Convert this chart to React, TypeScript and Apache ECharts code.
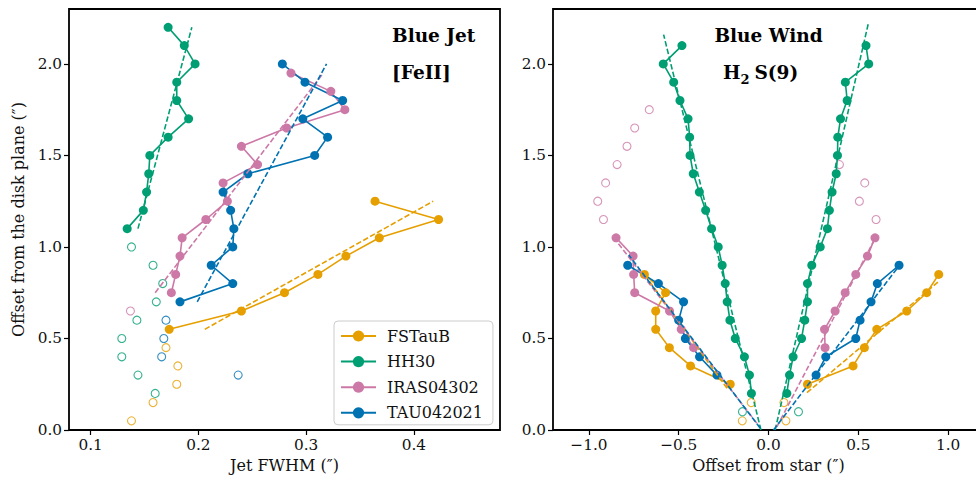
import React, { useEffect, useRef } from "react";
import * as echarts from "echarts";

// ---------------- Left panel: Blue Jet [FeII] ----------------
const jetFSTauB_y = [1.25, 1.15, 1.05, 0.95, 0.85, 0.75, 0.65, 0.55];
const jetFSTauB_x = [0.364, 0.423, 0.368, 0.337, 0.311, 0.28, 0.24, 0.173];
const jetFSTauB_hy = [0.45, 0.35, 0.25, 0.15, 0.05];
const jetFSTauB_hx = [0.17, 0.181, 0.18, 0.158, 0.138];
const jetFSTauB_fy = [0.55, 1.25];
const jetFSTauB_fx = [0.206, 0.418];

const jetHH30_y = [2.2, 2.1, 2.0, 1.9, 1.8, 1.7, 1.6, 1.5, 1.4, 1.3, 1.2, 1.1];
const jetHH30_x = [0.172, 0.187, 0.197, 0.18, 0.18, 0.191, 0.172, 0.155, 0.154, 0.152, 0.149, 0.134];
const jetHH30_hy = [1.0, 0.9, 0.8, 0.7, 0.6, 0.5, 0.4, 0.3, 0.2];
const jetHH30_hx = [0.138, 0.158, 0.167, 0.161, 0.143, 0.129, 0.129, 0.144, 0.16];
const jetHH30_fy = [1.1, 2.2];
const jetHH30_fx = [0.144, 0.194];

const jetIRAS_y = [1.95, 1.85, 1.75, 1.65, 1.55, 1.45, 1.35, 1.25, 1.15, 1.05, 0.95, 0.85, 0.75];
const jetIRAS_x = [0.286, 0.323, 0.336, 0.282, 0.24, 0.255, 0.223, 0.227, 0.207, 0.185, 0.183, 0.179, 0.175];
const jetIRAS_hy = [0.65];
const jetIRAS_hx = [0.137];
const jetIRAS_fy = [0.75, 1.95];
const jetIRAS_fx = [0.16, 0.316];

const jetTAU_y = [2.0, 1.9, 1.8, 1.7, 1.6, 1.5, 1.4, 1.3, 1.2, 1.1, 1.0, 0.9, 0.8, 0.7];
const jetTAU_x = [0.278, 0.299, 0.334, 0.297, 0.32, 0.308, 0.246, 0.223, 0.23, 0.233, 0.232, 0.212, 0.232, 0.183];
const jetTAU_hy = [0.6, 0.5, 0.4, 0.3];
const jetTAU_hx = [0.17, 0.168, 0.166, 0.237];
const jetTAU_fy = [0.7, 2.0];
const jetTAU_fx = [0.199, 0.319];

// ---------------- Right panel: Blue Wind H2 S(9) ----------------
const windHH30_y = [2.1, 2.0, 1.9, 1.8, 1.7, 1.6, 1.5, 1.4, 1.3, 1.2, 1.1, 1.0, 0.9, 0.8, 0.7, 0.6, 0.5, 0.4, 0.3, 0.2];
const windHH30_xl = [-0.482, -0.586, -0.528, -0.493, -0.448, -0.439, -0.437, -0.419, -0.385, -0.35, -0.317, -0.28, -0.258, -0.241, -0.23, -0.215, -0.185, -0.134, -0.106, -0.095];
const windHH30_xr = [0.543, 0.558, 0.428, 0.438, 0.401, 0.386, 0.384, 0.377, 0.354, 0.339, 0.328, 0.288, 0.241, 0.217, 0.217, 0.202, 0.184, 0.137, 0.117, 0.102];
const windHH30_hy = [0.1, 0.1];
const windHH30_hx = [-0.145, 0.167];
const windHH30_fyl = [0.0, 2.16];
const windHH30_fxl = [-0.042, -0.584];
const windHH30_fyr = [0.0, 2.23];
const windHH30_fxr = [0.037, 0.558];

const windFSTauB_y = [0.85, 0.75, 0.65, 0.55, 0.45, 0.35, 0.25];
const windFSTauB_xl = [-0.691, -0.573, -0.628, -0.628, -0.552, -0.434, -0.213];
const windFSTauB_xr = [0.948, 0.881, 0.77, 0.603, 0.534, 0.471, 0.217];
const windFSTauB_hy = [0.15, 0.05, 0.15, 0.05];
const windFSTauB_hx = [-0.096, -0.146, 0.086, 0.097];
const windFSTauB_fyl = [0.228, 0.856];
const windFSTauB_fxl = [-0.231, -0.695];
const windFSTauB_fyr = [0.204, 0.81];
const windFSTauB_fxr = [0.214, 0.946];

const windIRAS_y = [1.05, 0.95, 0.85, 0.75, 0.65, 0.55, 0.45];
const windIRAS_xl = [-0.849, -0.754, -0.751, -0.745, -0.551, -0.486, -0.417];
const windIRAS_xr = [0.593, 0.551, 0.486, 0.427, 0.371, 0.312, 0.315];
const windIRAS_hyl = [1.75, 1.65, 1.55, 1.45, 1.35, 1.25, 1.15];
const windIRAS_hxl = [-0.664, -0.745, -0.788, -0.843, -0.907, -0.951, -0.919];
const windIRAS_hyr = [1.45, 1.35, 1.25, 1.15];
const windIRAS_hxr = [0.395, 0.536, 0.506, 0.599];
const windIRAS_fyl = [0.037, 1.035];
const windIRAS_fxl = [-0.065, -0.849];
const windIRAS_fyr = [0.018, 1.04];
const windIRAS_fxr = [0.047, 0.59];

const windTAU_y = [0.9, 0.8, 0.7, 0.6, 0.5, 0.4, 0.3];
const windTAU_xl = [-0.784, -0.613, -0.473, -0.5, -0.463, -0.384, -0.287];
const windTAU_xr = [0.727, 0.606, 0.571, 0.51, 0.486, 0.319, 0.265];
const windTAU_fyl = [0.01, 0.956];
const windTAU_fxl = [-0.046, -0.778];
const windTAU_fyr = [0.0, 0.88];
const windTAU_fxr = [0.028, 0.714];

// ---------------- Axes ticks ----------------
const jetXTicks = [0.1, 0.2, 0.3, 0.4];
const windXTicks = [-1.0, -0.5, 0.0, 0.5, 1.0];
const yTicks = [0.0, 0.5, 1.0, 1.5, 2.0];

const C_FST = "#E69F00";
const C_HH = "#009E73";
const C_IRAS = "#CC79A7";
const C_TAU = "#0072B2";
const FONT = "'DejaVu Serif', serif";

const pairs = (xs: number[], ys: number[]) => xs.map((x, i) => [x, ys[i]]);

function solid(name: string, xs: number[], ys: number[], color: string, ai: number) {
  return {
    type: "line",
    name,
    xAxisIndex: ai,
    yAxisIndex: ai,
    data: pairs(xs, ys),
    symbol: "circle",
    symbolSize: 9,
    showSymbol: true,
    lineStyle: { color, width: 1.6 },
    itemStyle: { color },
    emphasis: { disabled: true },
    silent: true,
    z: 3,
  };
}
function hollow(name: string, xs: number[], ys: number[], color: string, ai: number) {
  return {
    type: "scatter",
    name,
    xAxisIndex: ai,
    yAxisIndex: ai,
    data: pairs(xs, ys),
    symbol: "circle",
    symbolSize: 8,
    itemStyle: { color: "rgba(255,255,255,0)", borderColor: color, borderWidth: 1.1 },
    emphasis: { disabled: true },
    silent: true,
    z: 2,
  };
}
function fit(name: string, xs: number[], ys: number[], color: string, ai: number) {
  return {
    type: "line",
    name,
    xAxisIndex: ai,
    yAxisIndex: ai,
    data: pairs(xs, ys),
    symbol: "none",
    lineStyle: { color, width: 1.6, type: [5.5, 2.4] },
    emphasis: { disabled: true },
    silent: true,
    z: 4,
  };
}

const fmt = (v: number) => (v < 0 ? "\u2212" + Math.abs(v).toFixed(1) : v.toFixed(1));

export default function App() {
  const ref = useRef<HTMLDivElement>(null);
  useEffect(() => {
    if (!ref.current) return;
    const chart = echarts.init(ref.current, undefined, { renderer: "svg" });
    const axisLabel = (vals: number[]) => ({
      customValues: vals,
      formatter: (v: number) => fmt(v),
      fontFamily: FONT,
      fontSize: 15.3,
      color: "#111",
      margin: 7,
    });
    const axisTick = (vals: number[]) => ({
      show: true,
      customValues: vals,
      length: 5,
      lineStyle: { color: "#000", width: 1.2 },
    });
    const nameStyle = { fontFamily: FONT, fontSize: 16, color: "#111" };
    const xAxis = (ai: number, min: number, max: number, ticks: number[], name: string) => ({
      type: "value",
      gridIndex: ai,
      min,
      max,
      axisLine: { show: false, onZero: false },
      axisTick: axisTick(ticks),
      axisLabel: axisLabel(ticks),
      splitLine: { show: false },
      name,
      nameLocation: "middle",
      nameGap: 27,
      nameTextStyle: nameStyle,
    });
    const yAxis = (ai: number, name: string) => ({
      type: "value",
      gridIndex: ai,
      min: 0,
      max: 2.3,
      axisLine: { show: false, onZero: false },
      axisTick: axisTick(yTicks),
      axisLabel: axisLabel(yTicks),
      splitLine: { show: false },
      name,
      nameLocation: "middle",
      nameGap: 43,
      nameTextStyle: nameStyle,
    });

    const titleFont = `bold 18.5px ${FONT}`;
    const option = {
      animation: false,
      backgroundColor: "#fff",
      grid: [
        { left: 69, top: 9, width: 431, height: 421, show: true, borderColor: "#000", borderWidth: 1.8, backgroundColor: "transparent", outerBoundsMode: "none", containLabel: false },
        { left: 553, top: 9, width: 431, height: 421, show: true, borderColor: "#000", borderWidth: 1.8, backgroundColor: "transparent", outerBoundsMode: "none", containLabel: false },
      ],
      xAxis: [
        xAxis(0, 0.08, 0.48, jetXTicks, "Jet FWHM (\u2033)"),
        xAxis(1, -1.2, 1.2, windXTicks, "Offset from star (\u2033)"),
      ],
      yAxis: [yAxis(0, "Offset from the disk plane (\u2033)"), yAxis(1, "")],
      legend: {
        data: ["FSTauB", "HH30", "IRAS04302", "TAU042021"],
        orient: "vertical",
        left: 334,
        top: 321,
        itemWidth: 35,
        itemHeight: 14,
        itemGap: 9.6,
        padding: [7, 10, 4, 6],
        borderColor: "#cccccc",
        borderWidth: 1,
        borderRadius: 4,
        backgroundColor: "#fff",
        textStyle: { fontFamily: FONT, fontSize: 16, color: "#111", lineHeight: 14, padding: [0, 0, 0, 6] },
        selectedMode: false,
      },
      graphic: [
        { type: "text", x: 392, y: 35.5, style: { text: "Blue Jet", font: titleFont, fill: "#000", textVerticalAlign: "middle" } },
        { type: "text", x: 392, y: 72, style: { text: "[FeII]", font: titleFont, fill: "#000", textVerticalAlign: "middle" } },
        { type: "text", x: 768.5, y: 35.5, style: { text: "Blue Wind", font: titleFont, fill: "#000", textAlign: "center", textVerticalAlign: "middle" } },
        { type: "text", x: 723, y: 72, style: { text: "H", font: titleFont, fill: "#000", textVerticalAlign: "middle" } },
        { type: "text", x: 740.5, y: 79, style: { text: "2", font: `bold 13px ${FONT}`, fill: "#000", textVerticalAlign: "middle" } },
        { type: "text", x: 754.5, y: 72, style: { text: "S(9)", font: titleFont, fill: "#000", textVerticalAlign: "middle" } },
      ],
      series: [
        // left panel
        solid("FSTauB", jetFSTauB_x, jetFSTauB_y, C_FST, 0),
        hollow("FSTauB h", jetFSTauB_hx, jetFSTauB_hy, C_FST, 0),
        fit("FSTauB f", jetFSTauB_fx, jetFSTauB_fy, C_FST, 0),
        solid("HH30", jetHH30_x, jetHH30_y, C_HH, 0),
        hollow("HH30 h", jetHH30_hx, jetHH30_hy, C_HH, 0),
        fit("HH30 f", jetHH30_fx, jetHH30_fy, C_HH, 0),
        solid("IRAS04302", jetIRAS_x, jetIRAS_y, C_IRAS, 0),
        hollow("IRAS04302 h", jetIRAS_hx, jetIRAS_hy, C_IRAS, 0),
        fit("IRAS04302 f", jetIRAS_fx, jetIRAS_fy, C_IRAS, 0),
        solid("TAU042021", jetTAU_x, jetTAU_y, C_TAU, 0),
        hollow("TAU042021 h", jetTAU_hx, jetTAU_hy, C_TAU, 0),
        fit("TAU042021 f", jetTAU_fx, jetTAU_fy, C_TAU, 0),
        // right panel
        solid("w FSTauB L", windFSTauB_xl, windFSTauB_y, C_FST, 1),
        solid("w FSTauB R", windFSTauB_xr, windFSTauB_y, C_FST, 1),
        hollow("w FSTauB h", windFSTauB_hx, windFSTauB_hy, C_FST, 1),
        fit("w FSTauB fL", windFSTauB_fxl, windFSTauB_fyl, C_FST, 1),
        fit("w FSTauB fR", windFSTauB_fxr, windFSTauB_fyr, C_FST, 1),
        solid("w HH30 L", windHH30_xl, windHH30_y, C_HH, 1),
        solid("w HH30 R", windHH30_xr, windHH30_y, C_HH, 1),
        hollow("w HH30 h", windHH30_hx, windHH30_hy, C_HH, 1),
        fit("w HH30 fL", windHH30_fxl, windHH30_fyl, C_HH, 1),
        fit("w HH30 fR", windHH30_fxr, windHH30_fyr, C_HH, 1),
        solid("w IRAS L", windIRAS_xl, windIRAS_y, C_IRAS, 1),
        solid("w IRAS R", windIRAS_xr, windIRAS_y, C_IRAS, 1),
        hollow("w IRAS hL", windIRAS_hxl, windIRAS_hyl, C_IRAS, 1),
        hollow("w IRAS hR", windIRAS_hxr, windIRAS_hyr, C_IRAS, 1),
        fit("w IRAS fL", windIRAS_fxl, windIRAS_fyl, C_IRAS, 1),
        fit("w IRAS fR", windIRAS_fxr, windIRAS_fyr, C_IRAS, 1),
        solid("w TAU L", windTAU_xl, windTAU_y, C_TAU, 1),
        solid("w TAU R", windTAU_xr, windTAU_y, C_TAU, 1),
        fit("w TAU fL", windTAU_fxl, windTAU_fyl, C_TAU, 1),
        fit("w TAU fR", windTAU_fxr, windTAU_fyr, C_TAU, 1),
      ],
    };
    chart.setOption(option as any);
    return () => chart.dispose();
  }, []);
  return (
    <div
      ref={ref}
      style={{ position: "fixed", left: 0, top: 0, width: 976, height: 479, background: "#fff" }}
    />
  );
}
